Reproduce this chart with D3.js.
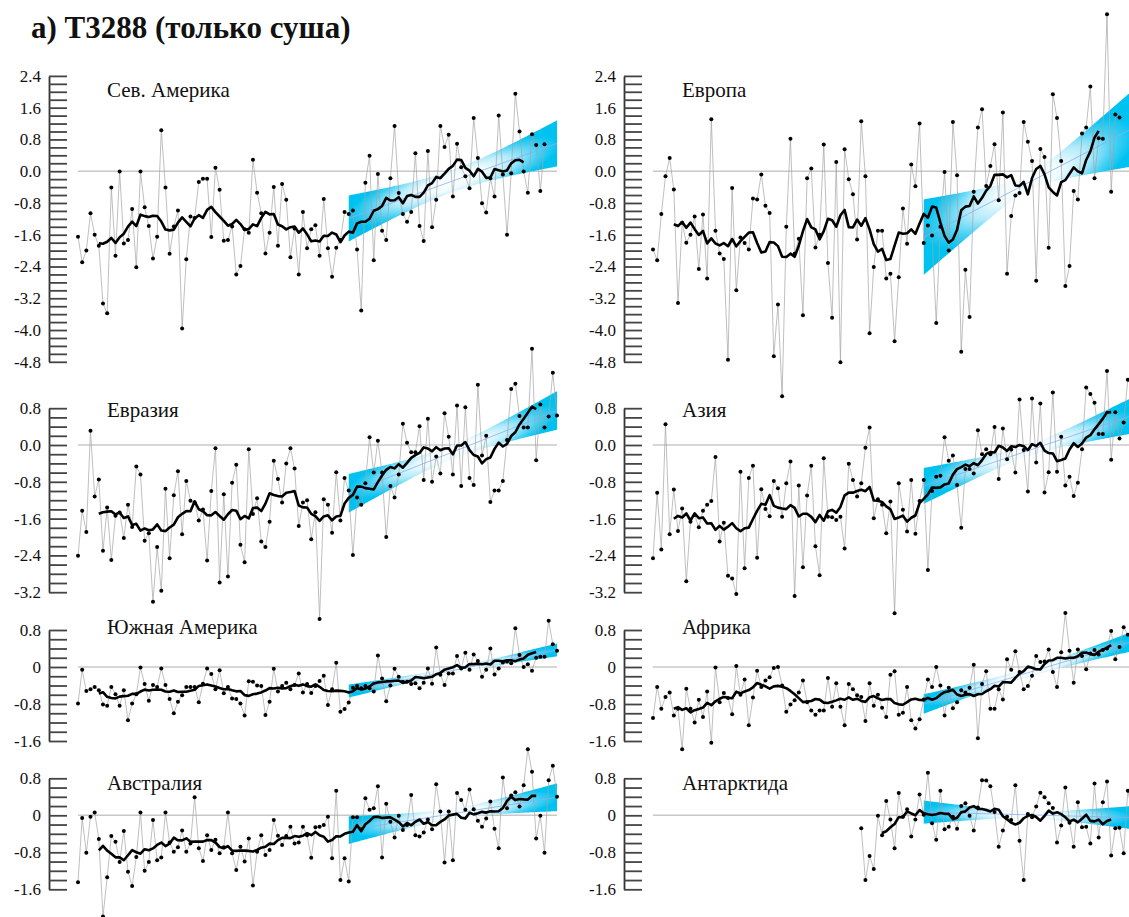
<!DOCTYPE html>
<html><head><meta charset="utf-8">
<script src="https://cdn.jsdelivr.net/npm/d3@7"></script>
<style>
html,body{margin:0;padding:0;background:#fff;}
svg text{font-family:"Liberation Serif","Times New Roman","Liberation Sans",Arial,sans-serif;fill:#111;}
</style></head>
<body>
<script>
// ---------- DATA ----------
const firstYear = 1905, lastYear = 2020;
const bandStartYear = 1970, bandEndYear = 2020;
const title = "а) T3288 (только суша)";
const regionNames = ["Сев. Америка","Европа","Евразия","Азия","Южная Америка","Африка","Австралия","Антарктида"];

const northAmerica = [-1.65,-2.29,-2.0,-1.06,-1.6,-1.88,-3.33,-3.58,-0.41,-2.13,
 -0.01,-1.82,-1.73,-0.95,-2.42,-0.01,-0.91,-1.38,-2.2,-1.65,
 1.03,-0.41,-2.08,-1.39,-0.99,-3.96,-2.22,-1.14,-1.18,-0.27,
 -0.19,-0.19,-1.66,0.09,-0.47,-1.75,-1.73,-1.39,-2.6,-2.39,
 -1.46,-1.55,0.29,-0.54,-1.06,-2.07,-1.55,-0.4,-1.88,-0.32,
 -0.72,-2.17,-1.44,-2.6,-1.03,-1.94,-1.46,-1.36,-2.13,-0.7,
 -1.94,-2.66,-1.93,-1.73,-1.03,-1.08,-0.99,-1.97,-3.51,-0.29,
 0.39,-2.24,-0.07,-1.5,-1.73,-0.18,1.14,-0.55,-1.08,-1.27,
 -1.03,0.45,-1.38,-1.76,0.51,-1.41,-0.72,1.14,0.61,0.92,
 -0.64,0.69,0.1,-0.13,-0.43,1.34,0.33,-0.81,-1.04,-0.18,
 -0.64,1.4,-0.08,-1.6,-0.05,1.95,1.0,-0.01,-0.54,0.93,
 0.66,-0.5,0.68,null,null,null];

const europe = [-1.97,-2.24,-1.08,-0.13,0.33,-0.46,-3.32,-1.3,-1.8,-1.6,
 -1.14,-2.46,-1.09,-2.7,1.31,-1.5,-2.07,-2.21,-4.75,-0.42,
 -3.0,-1.67,-1.81,-1.97,-0.69,-0.71,-0.08,-0.87,-1.05,-4.66,
 -3.36,-5.67,-1.4,0.82,-2.08,-1.7,-3.63,-0.18,0.07,-1.92,
 -1.6,0.67,-2.31,-3.69,0.23,-4.81,0.55,-0.2,-0.58,-1.72,
 1.26,-0.13,-4.08,-2.41,-1.5,-1.5,-2.7,-2.58,-4.28,-2.67,
 -0.94,-1.83,0.17,-0.38,1.2,-1.81,-1.37,-1.62,-3.82,-1.4,
 -0.02,-2.0,1.24,-0.1,-4.55,-2.48,-3.67,-0.52,1.1,1.56,
 -0.37,0.13,0.68,-0.73,1.48,-2.58,-1.13,-0.61,-0.55,1.24,
 0.74,0.26,-2.76,0.56,0.36,-1.93,1.94,1.34,0.26,-2.89,
 -2.39,-0.5,-0.71,0.95,1.1,2.13,-0.18,0.83,0.82,3.95,
 -0.52,1.43,1.35,null,null,null];

const eurasia = [-2.41,-1.43,-1.89,0.31,-1.12,-0.75,-2.3,-1.36,-2.5,-1.54,
 -1.47,-2.02,-1.3,-1.78,-0.47,-0.64,-2.08,-1.92,-3.41,-2.22,
 -3.17,-0.95,-2.46,-1.09,-0.57,-1.94,-0.78,-1.21,-1.25,-1.64,
 -1.4,-2.51,-1.0,-0.07,-2.99,-1.07,-2.86,-0.82,-0.43,-2.17,
 -2.55,-0.09,-1.5,-1.16,-2.1,-2.22,-1.67,-0.34,-0.74,-1.25,
 -0.4,-0.07,-0.51,-1.76,-1.25,-1.2,-2.05,-1.46,-3.78,-1.18,
 -1.3,-1.91,-0.59,-1.64,-0.72,-0.99,-2.39,-1.14,-1.3,-0.83,
 0.17,-0.6,0.09,-0.6,-2.0,-0.89,-1.14,-0.64,0.46,0.05,
 -0.16,-0.16,0.41,-0.76,0.57,-0.8,-0.25,-0.62,0.69,0.18,
 -0.64,0.86,-0.89,0.82,-0.72,-0.87,1.31,-0.23,0.2,-1.24,
 -0.99,-0.99,-0.78,0.11,1.22,1.33,0.63,0.38,0.38,2.09,
 -0.33,0.88,0.38,0.62,1.57,0.64];

const asia = [-2.46,-1.04,-2.27,0.45,-1.94,-0.97,-1.87,-1.38,-2.96,-1.67,
 -1.52,-1.79,-1.43,-1.3,-1.22,-0.26,-2.1,-1.69,-2.84,-2.9,
 -3.24,-0.58,-2.68,-0.72,-0.45,-2.45,-0.96,-1.39,-1.55,-0.78,
 -0.94,-1.56,-0.83,-0.36,-3.28,-0.88,-2.66,-1.1,-0.45,-2.2,
 -2.83,-0.29,-1.56,-1.57,-1.63,-1.56,-2.25,-0.41,-0.76,-1.12,
 -0.83,-0.06,0.38,-1.59,-1.18,-1.3,-1.92,-1.23,-3.66,-0.83,
 -1.41,-1.88,-0.76,-1.93,-1.22,-0.76,-2.72,-1.0,-0.69,-0.67,
 0.17,-0.34,-0.23,-0.87,-1.8,-0.52,-0.52,-0.62,0.32,-0.2,
 -0.09,-0.2,0.39,-0.74,0.36,-0.31,-0.1,-0.6,0.99,-0.11,
 -1.01,1.01,-0.38,0.9,-1.03,-0.59,1.14,-0.58,0.18,-0.88,
 -0.69,-1.11,-0.82,-0.09,1.25,1.11,0.92,0.24,0.24,1.61,
 -0.32,0.71,0.14,0.49,1.42,1.3];

const southAmerica = [-0.79,-0.06,-0.52,-0.48,-0.43,-0.5,-0.81,-0.84,-0.43,-0.59,
 -0.84,-0.5,-1.15,-0.79,-0.59,-0.01,-0.37,-0.73,-0.39,-0.43,
 -0.03,-0.39,-0.69,-1.0,-0.75,-0.61,-0.43,-0.43,-0.43,-0.76,
 -0.36,-0.03,-0.15,-0.48,-0.07,-0.57,-0.43,-0.68,-0.69,-0.79,
 -1.05,-0.31,-0.32,-0.4,-0.41,-1.04,-0.75,-0.04,-0.53,-0.41,
 -0.34,-0.48,-0.39,-0.14,-0.55,-0.37,-0.56,-0.41,-0.3,-0.19,
 -0.82,-0.48,0.09,-0.97,-0.91,-0.77,-0.45,-0.41,-0.46,-0.41,
 -0.46,-0.53,0.25,-0.25,-0.74,-0.4,-0.04,-0.21,-0.32,-0.32,
 -0.37,-0.35,-0.46,-0.34,-0.03,-0.36,0.42,-0.17,-0.39,-0.14,
 -0.14,0.24,-0.03,0.31,-0.06,0.27,0.13,-0.21,-0.06,0.4,
 -0.16,-0.03,0.1,0.12,0.08,0.84,0.26,0.0,0.06,-0.08,
 0.2,0.22,0.22,1.0,0.49,0.35];

const africa = [-1.1,-0.43,-0.9,-0.65,-0.55,-1.05,-0.9,-1.78,-0.47,-0.9,
 -1.2,-0.71,-1.08,-0.53,-1.64,-0.01,-0.76,-0.56,-0.67,-1.02,
 0.02,-0.6,-0.27,-1.26,-0.66,-0.08,-0.43,-0.29,-0.22,-0.02,
 0.0,-0.4,-0.97,-0.81,-0.72,-0.55,-0.29,-0.76,-0.94,-1.03,
 -0.94,-0.94,-0.24,-0.86,-0.35,-0.86,-1.26,-0.37,-0.48,-0.61,
 -0.65,-1.17,-0.35,-0.84,-0.6,-0.88,-1.08,-0.17,-0.09,-1.03,
 -0.99,-0.43,-1.15,-1.33,-1.13,-0.7,-0.27,-0.43,0.0,-0.4,
 -1.05,-0.45,-0.89,-0.76,-0.5,-0.55,-0.45,0.05,-1.54,-0.37,
 -0.09,-0.9,-0.9,-0.48,-0.7,0.17,-0.06,0.34,-0.11,-0.48,
 -0.41,-0.19,0.24,0.11,0.12,0.38,-0.11,-0.43,0.32,1.17,
 0.35,-0.34,0.38,0.24,-0.05,0.29,0.37,0.27,0.37,0.4,
 0.78,0.17,0.43,0.86,0.7,0.55];

const australia = [-1.45,-0.06,-0.81,-0.03,0.06,-0.51,-2.19,-1.34,-0.45,-0.57,
 -1.01,-0.34,-1.22,-1.53,-0.9,0.06,-1.2,-1.01,-0.1,-0.97,
 -0.91,0.06,-0.59,-0.79,-0.69,-0.33,-0.79,-0.61,0.39,-0.71,
 -0.99,-0.43,-0.75,-0.53,-0.82,-0.69,0.06,-0.82,-1.18,-0.68,
 -1.0,-0.5,-1.52,-0.79,-0.43,-0.86,-0.75,-0.1,-0.44,-0.64,
 -0.45,-0.25,-0.61,-0.59,-0.25,-0.43,-0.92,-0.26,-0.25,-0.21,
 -0.03,-0.93,0.53,-1.4,-0.93,-1.43,-0.04,-0.04,-0.3,0.37,
 0.12,0.15,0.63,-0.91,0.25,-0.14,-0.48,-0.01,-0.32,-0.21,
 0.44,-0.43,-0.46,-0.37,-0.09,-0.3,0.67,0.08,-1.02,0.08,
 -0.97,0.48,0.33,0.12,0.56,0.13,-0.12,-0.25,-0.07,0.3,
 -0.29,-0.71,0.82,0.15,0.43,0.5,0.19,0.65,1.43,0.94,
 -0.5,-0.01,-0.81,0.76,1.07,0.4];

const antarctica = [null,null,null,null,null,null,null,null,null,null,
 null,null,null,null,null,null,null,null,null,null,
 null,null,null,null,null,null,null,null,null,null,
 null,null,null,null,null,null,null,null,null,null,
 null,null,null,null,null,null,null,null,null,null,
 -0.28,-1.4,-0.88,-1.16,-0.01,-0.43,0.31,-0.09,-0.71,0.48,
 -0.03,0.13,-0.46,-0.09,0.45,0.01,0.92,-0.17,-0.53,0.53,
 -0.3,-0.25,-0.03,-0.29,0.2,0.26,-0.01,-0.33,0.17,0.76,
 0.75,0.63,0.07,-0.68,-0.33,-0.03,-0.1,0.65,-0.55,-1.4,
 0.03,-0.04,0.19,0.49,0.39,0.26,0.16,-0.59,-0.22,0.6,
 -0.16,-0.68,0.28,-0.26,-0.25,-0.61,0.69,-0.48,0.28,0.73,
 -0.87,-0.28,-0.27,-0.82,0.53,0.1];

// trend band: value at band start, value at band end, half-width at ends, half-width in middle
const trendStart = [-1.19,-1.66,-1.05,-0.89,-0.52,-0.80,-0.32, 0.07];
const trendEnd   = [ 0.70, 1.07, 0.75, 0.64, 0.37, 0.55, 0.39,-0.05];
const halfEnd    = [ 0.58, 0.95, 0.42, 0.39, 0.14, 0.21, 0.30, 0.25];
const halfMid    = [ 0.28, 0.20, 0.15, 0.12, 0.06, 0.09, 0.11, 0.07];

// axis ticks
const row1Ticks = [2.4,1.6,0.8,0.0,-0.8,-1.6,-2.4,-3.2,-4.0,-4.8];
const row1Labels = ["2.4","1.6","0.8","0.0","-0.8","-1.6","-2.4","-3.2","-4.0","-4.8"];
const row2Ticks = [0.8,0.0,-0.8,-1.6,-2.4,-3.2];
const row2Labels = ["0.8","0.0","-0.8","-1.6","-2.4","-3.2"];
const row34Ticks = [0.8,0,-0.8,-1.6];
const row34Labels = ["0.8","0","-0.8","-1.6"];

// ---------- LAYOUT ----------
const FONT = '"Liberation Serif","Times New Roman","Liberation Sans",Arial,sans-serif';
const W = 1129, H = 917;
const rows = [
  {dom:[-4.8,2.4], rng:[361.8,75.9], ticks:row1Ticks, labels:row1Labels, labelY:97},
  {dom:[-3.2,0.8], rng:[592.2,408.2], ticks:row2Ticks, labels:row2Labels, labelY:417},
  {dom:[-1.6,0.8], rng:[741,630], ticks:row34Ticks, labels:row34Labels, labelY:634},
  {dom:[-1.6,0.8], rng:[889.3,778.3], ticks:row34Ticks, labels:row34Labels, labelY:790}
];
const cols = [
  {xr:[78,557], axisX:49, labelX:107},
  {xr:[653,1132], axisX:624, labelX:682}
];
const series = [northAmerica, europe, eurasia, asia, southAmerica, africa, australia, antarctica];
const years = d3.range(firstYear, lastYear + 1);

const svg = d3.select("body").append("svg").attr("width", W).attr("height", H)
  .attr("font-family", FONT).style("font-family", FONT);
const defs = svg.append("defs");

svg.append("text").attr("x", 31).attr("y", 38)
  .style("font-size","31px").style("font-weight","bold").text(title);

function runningMean(arr, half) {
  return arr.map((v, i) => {
    if (i - half < 0 || i + half >= arr.length) return null;
    const w = arr.slice(i - half, i + half + 1);
    if (w.some(d => d == null)) return null;
    return d3.mean(w);
  });
}

series.forEach((data, k) => {
  const row = rows[Math.floor(k / 2)], col = cols[k % 2];
  const x = d3.scaleLinear().domain([firstYear, lastYear]).range(col.xr);
  const y = d3.scaleLinear().domain(row.dom).range(row.rng);
  const g = svg.append("g");

  // axis: ruler ticks every 0.2
  const minor = d3.range(Math.round(row.dom[0] * 5), Math.round(row.dom[1] * 5) + 1).map(n => n / 5);
  const axis = d3.axisLeft(y).tickValues(minor).tickSizeInner(-18).tickSizeOuter(0).tickPadding(8)
    .tickFormat(v => {
      const j = row.ticks.findIndex(t => Math.abs(t - v) < 1e-6);
      return j >= 0 ? row.labels[j] : "";
    });
  const ag = g.append("g").attr("transform", `translate(${col.axisX},0)`).call(axis);
  ag.attr("font-family", FONT);
  ag.select(".domain").attr("stroke", "#333").attr("stroke-width", 1.8);
  ag.selectAll(".tick line").attr("stroke", "#444").attr("stroke-width", 1.8);
  ag.selectAll(".tick text").attr("font-size", 17).style("font-size", "17px").attr("fill", "#111");

  // trend band (confidence band of linear trend)
  const bandYears = d3.range(bandStartYear, bandEndYear + 0.01, 0.25);
  const mid = (bandStartYear + bandEndYear) / 2, halfSpan = (bandEndYear - bandStartYear) / 2;
  const center = yr => trendStart[k] + (trendEnd[k] - trendStart[k]) * (yr - bandStartYear) / (bandEndYear - bandStartYear);
  const hw = yr => {
    const t = (yr - mid) / halfSpan;
    return Math.sqrt(halfMid[k] ** 2 + (halfEnd[k] ** 2 - halfMid[k] ** 2) * t * t);
  };
  // elliptical gradient aligned with the trend line: white in the middle, cyan toward ends and edges
  const x0 = x(bandStartYear), y0 = y(center(bandStartYear));
  const x1 = x(bandEndYear), y1 = y(center(bandEndYear));
  const cx = (x0 + x1) / 2, cy = (y0 + y1) / 2;
  const ang = Math.atan2(y1 - y0, x1 - x0);
  const a = Math.hypot(x1 - x0, y1 - y0) / 2 * 1.02;
  const b = Math.abs(y(0) - y(halfEnd[k])) * Math.cos(ang) * 1.15;
  const gid = "grad" + k;
  const grad = defs.append("radialGradient").attr("id", gid)
    .attr("gradientUnits", "userSpaceOnUse").attr("cx", 0).attr("cy", 0).attr("r", 1)
    .attr("gradientTransform", `translate(${cx},${cy}) rotate(${ang * 180 / Math.PI}) scale(${a},${b})`);
  [[0, "#ffffff"], [0.3, "#f0fbfe"], [0.55, "#b4ebfb"], [0.8, "#45d0f4"], [1, "#00c2f0"]].forEach(([o, c]) =>
    grad.append("stop").attr("offset", o).attr("stop-color", c));

  // zero line (under the band)
  g.append("line").attr("x1", x(firstYear)).attr("x2", x(lastYear)).attr("y1", y(0)).attr("y2", y(0))
    .attr("stroke", "#c8c8c8").attr("stroke-width", 1.5);

  g.append("path").datum(bandYears)
    .attr("d", d3.area().x(d => x(d)).y0(d => y(center(d) - hw(d))).y1(d => y(center(d) + hw(d))))
    .attr("fill", `url(#${gid})`);

  // trend line
  g.append("path").datum([bandStartYear, bandEndYear])
    .attr("d", d3.line().x(d => x(d)).y(d => y(center(d))))
    .attr("stroke", "#86b0f7").attr("stroke-width", 0.8).attr("fill", "none");

  const pts = years.map((yr, i) => ({yr, v: data[i]}));
  g.append("path").datum(pts)
    .attr("d", d3.line().defined(d => d.v != null).x(d => x(d.yr)).y(d => y(d.v)))
    .attr("fill", "none").attr("stroke", "#a3a3a3").attr("stroke-width", 0.7);
  g.selectAll("circle.pt").data(pts.filter(d => d.v != null)).join("circle")
    .attr("cx", d => x(d.yr)).attr("cy", d => y(d.v)).attr("r", 2).attr("fill", "#000");
  const rm = runningMean(data, 5).map((v, i) => ({yr: years[i], v}));
  g.append("path").datum(rm)
    .attr("d", d3.line().defined(d => d.v != null).x(d => x(d.yr)).y(d => y(d.v)))
    .attr("fill", "none").attr("stroke", "#000").attr("stroke-width", 2.6).attr("stroke-linejoin", "round");

  g.append("text").attr("x", col.labelX).attr("y", row.labelY)
    .style("font-size", "21px").text(regionNames[k]);
});
</script>
</body></html>
